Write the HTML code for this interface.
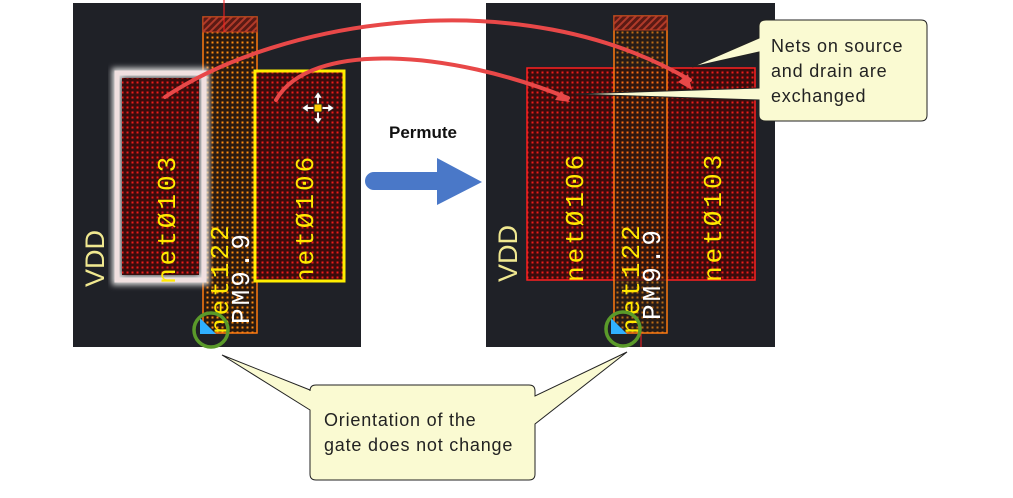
<!DOCTYPE html>
<html><head><style>
body{margin:0;width:1013px;height:493px;background:#fff;overflow:hidden}
</style></head><body>
<svg width="1013" height="493" xmlns="http://www.w3.org/2000/svg" font-family="Liberation Sans, sans-serif">
<defs>
<pattern id="rd" width="5" height="5" patternUnits="userSpaceOnUse"><rect width="5" height="5" fill="#3a0c0c"/><rect x="1.5" y="1.5" width="2" height="2" fill="#ee1a1a"/></pattern>
<pattern id="od" width="5" height="5" patternUnits="userSpaceOnUse"><rect width="5" height="5" fill="#2a1a10"/><rect x="1.5" y="1.5" width="2" height="2" fill="#ff8a10"/></pattern>
<pattern id="hh" width="5" height="5" patternUnits="userSpaceOnUse" patternTransform="rotate(45)"><rect width="5" height="5" fill="#5a1a14"/><rect width="2" height="5" fill="#b03a2a"/></pattern>
<filter id="gl"><feGaussianBlur stdDeviation="3"/></filter>
</defs>
<!-- left panel -->
<rect x="73" y="3" width="288" height="344" fill="#1f2127"/>
<rect x="203" y="17" width="54" height="316" fill="url(#od)" stroke="#ff7a10" stroke-width="1.5"/>
<rect x="203" y="17" width="54" height="15" fill="url(#hh)" stroke="#c04020"/>
<line x1="224" y1="0" x2="224" y2="32" stroke="#ff2020"/>
<rect x="117" y="73" width="87" height="207" fill="none" stroke="#ddd" stroke-width="10" filter="url(#gl)"/>
<rect x="117" y="73" width="87" height="207" fill="none" stroke="#f0e0e0" stroke-width="5"/>
<rect x="122" y="78" width="77" height="197" fill="url(#rd)"/>
<rect x="255" y="71" width="89" height="210" fill="url(#rd)" stroke="#ffee00" stroke-width="3"/>
<g fill="#fff" stroke="#333" stroke-width="0.5"><path d="M318 92 L322 98 L314 98Z M318 124 L322 118 L314 118Z M302 108 L308 104 L308 112Z M334 108 L328 104 L328 112Z"/><line x1="318" y1="96" x2="318" y2="120" stroke="#fff" stroke-width="2"/><line x1="306" y1="108" x2="330" y2="108" stroke="#fff" stroke-width="2"/></g>
<rect x="314" y="104" width="8" height="8" fill="#ffcc00" stroke="#222"/>
<g font-family="Liberation Mono, monospace" font-size="26">
<text transform="translate(104,287) rotate(-90)" fill="#f0e890" font-family="Liberation Sans, sans-serif" font-size="27">VDD</text>
<g fill="#ffe800" letter-spacing="3"><text transform="translate(175,284) rotate(-90)">netØ103</text><text transform="translate(313,284) rotate(-90)">netØ106</text><text transform="translate(228,334) rotate(-90)">net122</text></g>
<text transform="translate(249,324) rotate(-90)" fill="#fff" letter-spacing="3">PM9.9</text>
</g>
<path d="M200 318 L200 334 L216 334Z" fill="#30b0ff"/>
<circle cx="211" cy="330" r="17" fill="none" stroke="#5a9a2a" stroke-width="3.5"/>
<!-- right panel -->
<rect x="486" y="3" width="289" height="344" fill="#1f2127"/>
<rect x="527" y="68" width="228" height="212" fill="url(#rd)" stroke="#ff2020" stroke-width="1.5"/>
<line x1="614" y1="68" x2="614" y2="280" stroke="#ff2020"/>
<line x1="667" y1="68" x2="667" y2="280" stroke="#ff2020"/>
<rect x="614" y="16" width="53" height="317" fill="url(#od)" fill-opacity="0.7" stroke="#ff7a10" stroke-width="1.5"/>
<rect x="614" y="16" width="53" height="14" fill="url(#hh)" stroke="#c04020"/>
<line x1="641" y1="333" x2="641" y2="347" stroke="#ff2020"/>
<g font-family="Liberation Mono, monospace" font-size="26">
<text transform="translate(517,282) rotate(-90)" fill="#f0e890" font-family="Liberation Sans, sans-serif" font-size="27">VDD</text>
<g fill="#ffe800" letter-spacing="3"><text transform="translate(583,282) rotate(-90)">netØ106</text><text transform="translate(721,282) rotate(-90)">netØ103</text><text transform="translate(639,334) rotate(-90)">net122</text></g>
<text transform="translate(660,320) rotate(-90)" fill="#fff" letter-spacing="3">PM9.9</text>
</g>
<path d="M611 318 L611 334 L627 334Z" fill="#30b0ff"/>
<circle cx="623" cy="329" r="17" fill="none" stroke="#5a9a2a" stroke-width="3.5"/>
<!-- curved arrows -->
<g fill="none" stroke="#e84848" stroke-width="4" stroke-linecap="round">
<path d="M165 97 C280 20 520 -20 690 80"/>
<path d="M276 100 C310 40 450 50 568 98"/>
</g>
<path d="M692 90 L678 82 L688 74Z" fill="#e84848"/>
<path d="M570 102 L555 100 L561 91Z" fill="#e84848"/>
<!-- permute -->
<text x="423" y="138" font-size="17" font-weight="bold" text-anchor="middle" fill="#111">Permute</text>
<path d="M374 172 L437 172 L437 158 L482 182 L437 205 L437 190 L374 190 A9 9 0 0 1 374 172Z" fill="#4a78c8"/>
<!-- callouts -->
<path d="M766 20 L921 20 Q927 20 927 26 L927 115 Q927 121 921 121 L766 121 Q759 121 759 115 L759 100 L575 94 L759 88 L759 52 L692 67 L759 38 L759 26 Q759 20 766 20Z" fill="#fafad2" stroke="#222" stroke-width="1"/>
<g font-size="18" fill="#222" letter-spacing="0.8"><text x="771" y="52">Nets on source</text><text x="771" y="77">and drain are</text><text x="771" y="102">exchanged</text></g>
<path d="M316 385 L529 385 Q535 385 535 391 L535 396 L627 352 L535 424 L535 474 Q535 480 529 480 L316 480 Q310 480 310 474 L310 410 L222 355 L310 390 L310 391 Q310 385 316 385Z" fill="#fafad2" stroke="#222" stroke-width="1"/>
<g font-size="18" fill="#222" letter-spacing="0.8"><text x="324" y="426">Orientation of the</text><text x="324" y="451">gate does not change</text></g>
</svg>
</body></html>
